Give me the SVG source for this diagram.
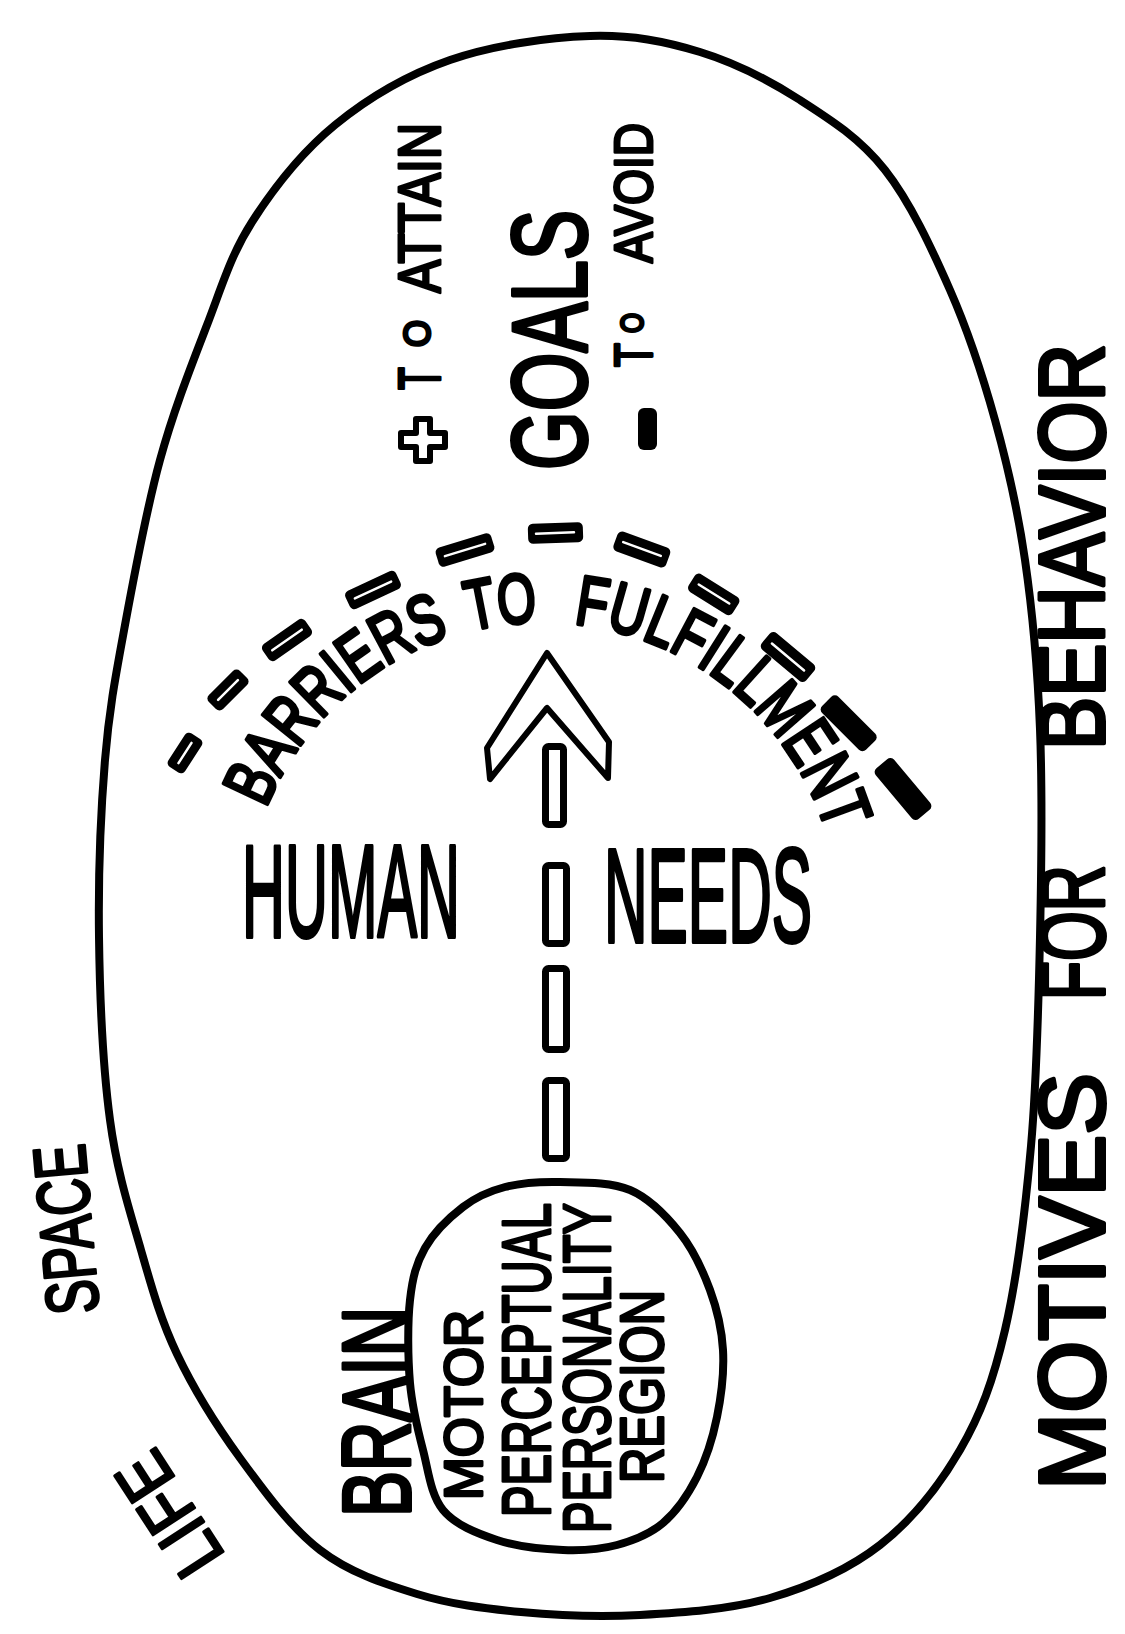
<svg xmlns="http://www.w3.org/2000/svg" width="1125" height="1634" viewBox="0 0 1125 1634">
<style>
.t{font-family:"Liberation Sans Narrow","Liberation Sans",Arial,sans-serif;font-weight:normal;fill:#000;stroke:#000;stroke-width:4;stroke-linejoin:round;stroke-linecap:round}
.s{stroke-width:3}
.ln{fill:none;stroke:#000;stroke-width:8;stroke-linecap:round;stroke-linejoin:round}
.box{fill:#fff;stroke:#000;stroke-width:7;stroke-linejoin:round}
.bar{fill:#000}
.barin{fill:none;stroke:#fff;stroke-width:2.5;stroke-linecap:round}
</style>
<defs>
<path id="arc" d="M265.7,808.3 A298,298 0 0 1 827,833"/>
</defs>
<rect x="0" y="0" width="1125" height="1634" fill="#fff"/>

<g id="life-space">
<path class="ln" d="M590,36 C631.7,34.7 665,41.3 700,52 C735,62.7 769.2,80.3 800,100 C830.8,119.7 860,138.3 885,170 C910,201.7 931.7,248.3 950,290 C968.3,331.7 982.5,375 995,420 C1007.5,465 1017.5,508.5 1025,560 C1032.5,611.5 1037.5,666.2 1040,729 C1042.5,791.8 1041.5,867.5 1040,937 C1038.5,1006.5 1036.8,1080.5 1031,1146 C1025.2,1211.5 1016.8,1279.3 1005,1330 C993.2,1380.7 980.8,1414.2 960,1450 C939.2,1485.8 911.7,1520.3 880,1545 C848.3,1569.7 810,1586.3 770,1598 C730,1609.7 681.5,1612.7 640,1615 C598.5,1617.3 558.2,1615.5 521,1612 C483.8,1608.5 450.5,1604.3 417,1594 C383.5,1583.7 349.5,1572.7 320,1550 C290.5,1527.3 263.8,1490.7 240,1458 C216.2,1425.3 193.5,1388.7 177,1354 C160.5,1319.3 152.2,1289 141,1250 C129.8,1211 117,1172.2 110,1120 C103,1067.8 99.8,997 99,937 C98.2,877 100.7,812 105,760 C109.3,708 115.8,675 125,625 C134.2,575 146.3,510 160,460 C173.7,410 191.7,364.7 207,325 C222.3,285.3 230.7,255.3 252,222 C273.3,188.7 302,152 335,125 C368,98 407.5,74.8 450,60 C492.5,45.2 548.3,37.3 590,36 Z"/>
<text class="t s" transform="translate(226,1556) rotate(-123)" font-size="72" textLength="132" lengthAdjust="spacingAndGlyphs">LIFE</text>
<text class="t s" transform="translate(99,1312) rotate(-95)" font-size="74" textLength="170" lengthAdjust="spacingAndGlyphs">SPACE</text>
</g>

<g id="motives">
<text class="t" transform="translate(1104,1490) rotate(-90)" font-size="93" textLength="417" lengthAdjust="spacingAndGlyphs">MOTIVES</text>
<text class="t" transform="translate(1104,1000) rotate(-90)" font-size="93" textLength="135" lengthAdjust="spacingAndGlyphs">FOR</text>
<text class="t" transform="translate(1104,750) rotate(-90)" font-size="93" textLength="406" lengthAdjust="spacingAndGlyphs">BEHAVIOR</text>
</g>

<g id="brain">
<path class="ln" stroke-width="7" d="M560,1182 C580.8,1182.5 610,1181.5 630,1190 C650,1198.5 666.7,1216.3 680,1233 C693.3,1249.7 702.8,1270.5 710,1290 C717.2,1309.5 721.8,1328.8 723,1350 C724.2,1371.2 721.3,1395.8 717,1417 C712.7,1438.2 706,1459.3 697,1477 C688,1494.7 676.3,1511.7 663,1523 C649.7,1534.3 633.7,1540.5 617,1545 C600.3,1549.5 583,1550.8 563,1550 C543,1549.2 517,1546.7 497,1540 C477,1533.3 455.3,1525 443,1510 C430.7,1495 428.5,1471.2 423,1450 C417.5,1428.8 412.2,1408 410,1383 C407.8,1358 407.5,1322.5 410,1300 C412.5,1277.5 416.2,1263.5 425,1248 C433.8,1232.5 449.7,1217.2 463,1207 C476.3,1196.8 488.8,1191.2 505,1187 C521.2,1182.8 539.2,1181.5 560,1182 Z"/>
<text class="t" transform="translate(410,1517) rotate(-90)" font-size="96" textLength="210" lengthAdjust="spacingAndGlyphs">BRAIN</text>
<text class="t s" transform="translate(482,1500) rotate(-90)" font-size="54" textLength="190" lengthAdjust="spacingAndGlyphs">MOTOR</text>
<text class="t s" transform="translate(550,1517) rotate(-90)" font-size="68" textLength="314" lengthAdjust="spacingAndGlyphs">PERCEPTUAL</text>
<text class="t s" transform="translate(610,1533) rotate(-90)" font-size="66" textLength="330" lengthAdjust="spacingAndGlyphs">PERSONALITY</text>
<text class="t s" transform="translate(663,1483) rotate(-90)" font-size="62" textLength="193" lengthAdjust="spacingAndGlyphs">REGION</text>
</g>

<g id="human-needs">
<text class="t" x="242" y="937" font-size="132" textLength="218" lengthAdjust="spacingAndGlyphs">HUMAN</text>
<text class="t" x="604" y="942" font-size="134" textLength="208" lengthAdjust="spacingAndGlyphs">NEEDS</text>
</g>

<g id="barriers">
<g transform="translate(185,753) rotate(-57)"><rect class="bar" x="-20" y="-10" width="40" height="20" rx="5"/><path class="barin" d="M-12,0 H12"/></g>
<g transform="translate(228,690) rotate(-45)"><rect class="bar" x="-22" y="-10" width="44" height="20" rx="5"/><path class="barin" d="M-14,0 H14"/></g>
<g transform="translate(287,640) rotate(-35)"><rect class="bar" x="-26" y="-10" width="52" height="20" rx="5"/><path class="barin" d="M-18,0 H18"/></g>
<g transform="translate(373,590) rotate(-25)"><rect class="bar" x="-28" y="-10" width="56" height="20" rx="5"/><path class="barin" d="M-20,0 H20"/></g>
<g transform="translate(465,550) rotate(-17)"><rect class="bar" x="-29" y="-10" width="58" height="20" rx="5"/><path class="barin" d="M-21,0 H21"/></g>
<g transform="translate(555,533) rotate(-2)"><rect class="bar" x="-27" y="-10" width="55" height="20" rx="5"/><path class="barin" d="M-19,0 H19"/></g>
<g transform="translate(642,549) rotate(20)"><rect class="bar" x="-28" y="-10" width="56" height="21" rx="5"/><path class="barin" d="M-20,0 H20"/></g>
<g transform="translate(714,594) rotate(32)"><rect class="bar" x="-26" y="-10" width="52" height="21" rx="5"/><path class="barin" d="M-18,0 H18"/></g>
<g transform="translate(788,657) rotate(40)"><rect class="bar" x="-29" y="-11" width="58" height="22" rx="5"/><path class="barin" d="M-21,0 H21"/></g>
<g transform="translate(849,723) rotate(45)"><rect class="bar" x="-31" y="-11" width="62" height="23" rx="5"/></g>
<g transform="translate(903,789) rotate(50)"><rect class="bar" x="-33" y="-12" width="66" height="24" rx="5"/></g>
<text class="t" font-size="70"><textPath href="#arc" startOffset="0" textLength="260" lengthAdjust="spacingAndGlyphs">BARRIERS</textPath></text>
<text class="t" font-size="70"><textPath href="#arc" startOffset="281" textLength="68" lengthAdjust="spacingAndGlyphs">TO</textPath></text>
<text class="t" font-size="70"><textPath href="#arc" startOffset="385" textLength="348" lengthAdjust="spacingAndGlyphs">FULFILLMENT</textPath></text>
</g>

<g id="goals">
<text class="t" transform="translate(586,470) rotate(-90)" font-size="106" textLength="260" lengthAdjust="spacingAndGlyphs">GOALS</text>
<path fill="#fff" stroke="#000" stroke-width="6" stroke-linejoin="round" d="M416,419 h14 v14 h15 v14 h-15 v14 h-14 v-14 h-15 v-14 h15 z"/>
<text class="t s" transform="translate(440,390) rotate(-90)" font-size="60"><tspan x="0" y="0" textLength="23" lengthAdjust="spacingAndGlyphs">T</tspan><tspan x="43" y="-10" font-size="36" textLength="27" lengthAdjust="spacingAndGlyphs">O</tspan><tspan x="97" y="0" textLength="170" lengthAdjust="spacingAndGlyphs">ATTAIN</tspan></text>
<rect class="bar" x="638" y="408" width="19" height="42" rx="6"/>
<text class="t s" transform="translate(652,367) rotate(-90)" font-size="54"><tspan x="0" y="0" textLength="24" lengthAdjust="spacingAndGlyphs">T</tspan><tspan x="34" y="-9" font-size="32" textLength="20" lengthAdjust="spacingAndGlyphs">O</tspan><tspan x="104" y="0" textLength="140" lengthAdjust="spacingAndGlyphs">AVOID</tspan></text>
</g>

<g id="connectors">
<rect class="box" x="545.5" y="1080.5" width="21" height="78" rx="3"/>
<rect class="box" x="545.5" y="968.5" width="21" height="81" rx="3"/>
<rect class="box" x="545.5" y="865.5" width="21" height="78" rx="3"/>
<rect class="box" x="545.5" y="746.5" width="18" height="78" rx="3"/>
<path fill="#fff" stroke="#000" stroke-width="6" stroke-linejoin="round" d="M547,653 L609,742 L608,778 L547,708 L490,779 L487,748 Z"/>
</g>
</svg>
